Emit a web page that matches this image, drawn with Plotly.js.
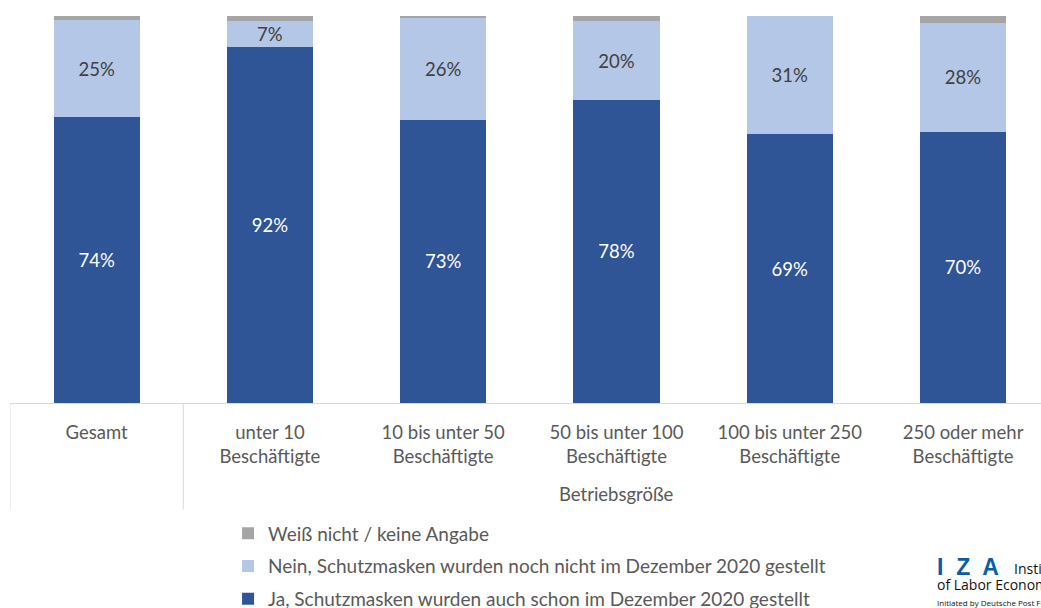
<!DOCTYPE html>
<html>
<head>
<meta charset="utf-8">
<script src="https://cdn.plot.ly/plotly-3.0.1.min.js"></script>
<style>
html,body{margin:0;padding:0;background:#fff;}
#chart{width:1041px;height:608px;}
</style>
</head>
<body>
<div id="chart"></div>
<script>
const categories = ["Gesamt", "unter 10", "10 bis unter 50", "50 bis unter 100", "100 bis unter 250", "250 oder mehr"];
const tickLabels = ["Gesamt", "unter 10<br>Beschäftigte", "10 bis unter 50<br>Beschäftigte", "50 bis unter 100<br>Beschäftigte", "100 bis unter 250<br>Beschäftigte", "250 oder mehr<br>Beschäftigte"];
const groupLabel = "Betriebsgröße";
const ja = [73.8, 92.0, 73.2, 78.3, 69.4, 70.1];
const nein = [25.2, 6.6, 26.4, 20.3, 30.6, 28.1];
const weissNicht = [1.0, 1.4, 0.4, 1.4, 0.0, 1.8];
const seriesNames = [
  "Ja, Schutzmasken wurden auch schon im Dezember 2020 gestellt",
  "Nein, Schutzmasken wurden noch nicht im Dezember 2020 gestellt",
  "Weiß nicht / keine Angabe"
];

const FONT = "Lato, 'Open Sans', sans-serif";
const FS = 18.5;
const fmt = v => Math.round(v) + "%";

const traces = [
  {type:"bar", x:categories, y:ja, name:seriesNames[0], legendgroup:"a", legendrank:3,
   marker:{color:"#2F5597"}, text:ja.map(fmt), textposition:"inside", constraintext:"none",
   insidetextanchor:"middle", textfont:{color:"#ffffff", size:FS, family:FONT},
   hoverinfo:"skip"},
  {type:"bar", x:categories, y:nein, name:seriesNames[1], legendgroup:"b", legendrank:2,
   marker:{color:"#B4C7E7"}, text:nein.map(fmt), textposition:"inside", constraintext:"none",
   insidetextanchor:"middle", textfont:{color:"#404040", size:FS, family:FONT},
   hoverinfo:"skip"},
  {type:"bar", x:categories, y:weissNicht, name:seriesNames[2], legendgroup:"c", legendrank:1,
   marker:{color:"#A5A5A5"}, textposition:"none", hoverinfo:"skip"}
];

const layout = {
  width:1041, height:608,
  margin:{l:10, r:0, t:16, b:205, autoexpand:false},
  barmode:"stack", bargap:0.503,
  paper_bgcolor:"#fff", plot_bgcolor:"#fff",
  font:{family:FONT, color:"#595959", size:FS},
  showlegend:true,
  legend:{orientation:"v", x:0.2115, xanchor:"left", y:-0.288, yanchor:"top",
          traceorder:"grouped", font:{size:19, color:"#595959", family:FONT},
          itemwidth:30, tracegroupgap:5, bgcolor:"rgba(0,0,0,0)"},
  xaxis:{type:"category", range:[-0.5, 5.45], tickmode:"array", tickvals:categories, ticktext:tickLabels,
         showline:true, linecolor:"#D9D9D9", linewidth:1, ticks:"", showgrid:false,
         tickfont:{size:FS, color:"#595959", family:FONT}, ticklabelstandoff:13, fixedrange:true},
  yaxis:{range:[0,100], visible:false, showgrid:false, zeroline:false, fixedrange:true},
  shapes:[
    {type:"line", xref:"x", yref:"paper", x0:-0.5, x1:-0.5, y0:0, y1:-0.275, line:{color:"#D9D9D9", width:1}},
    {type:"line", xref:"x", yref:"paper", x0:0.5, x1:0.5, y0:0, y1:-0.275, line:{color:"#D9D9D9", width:1}}
  ],
  annotations:[
    {text:groupLabel, xref:"x", yref:"paper", x:3.0, y:-0.235, yanchor:"middle", showarrow:false,
     font:{size:FS, color:"#595959", family:FONT}},
    {text:"<b>I  Z  A</b>", xref:"paper", yref:"paper", x:0.897, xanchor:"left", y:-0.424, yanchor:"middle", showarrow:false,
     font:{size:23, color:"#0B5DAA", family:"'Liberation Sans', Arial, sans-serif"}},
    {text:"Institute", xref:"paper", yref:"paper", x:0.972, xanchor:"left", y:-0.428, yanchor:"middle", showarrow:false,
     font:{size:14, color:"#111", family:"'Open Sans', sans-serif"}},
    {text:"of Labor Economics", xref:"paper", yref:"paper", x:0.897, xanchor:"left", y:-0.47, yanchor:"middle", showarrow:false,
     font:{size:14, color:"#111", family:"'Open Sans', sans-serif"}},
    {text:"Initiated by Deutsche Post Foundation", xref:"paper", yref:"paper", x:0.897, xanchor:"left", y:-0.515, yanchor:"middle", showarrow:false,
     font:{size:8, color:"#111", family:"'Open Sans', sans-serif"}}
  ]
};

Plotly.newPlot("chart", traces, layout, {displayModeBar:false, staticPlot:true});
</script>
</body>
</html>
